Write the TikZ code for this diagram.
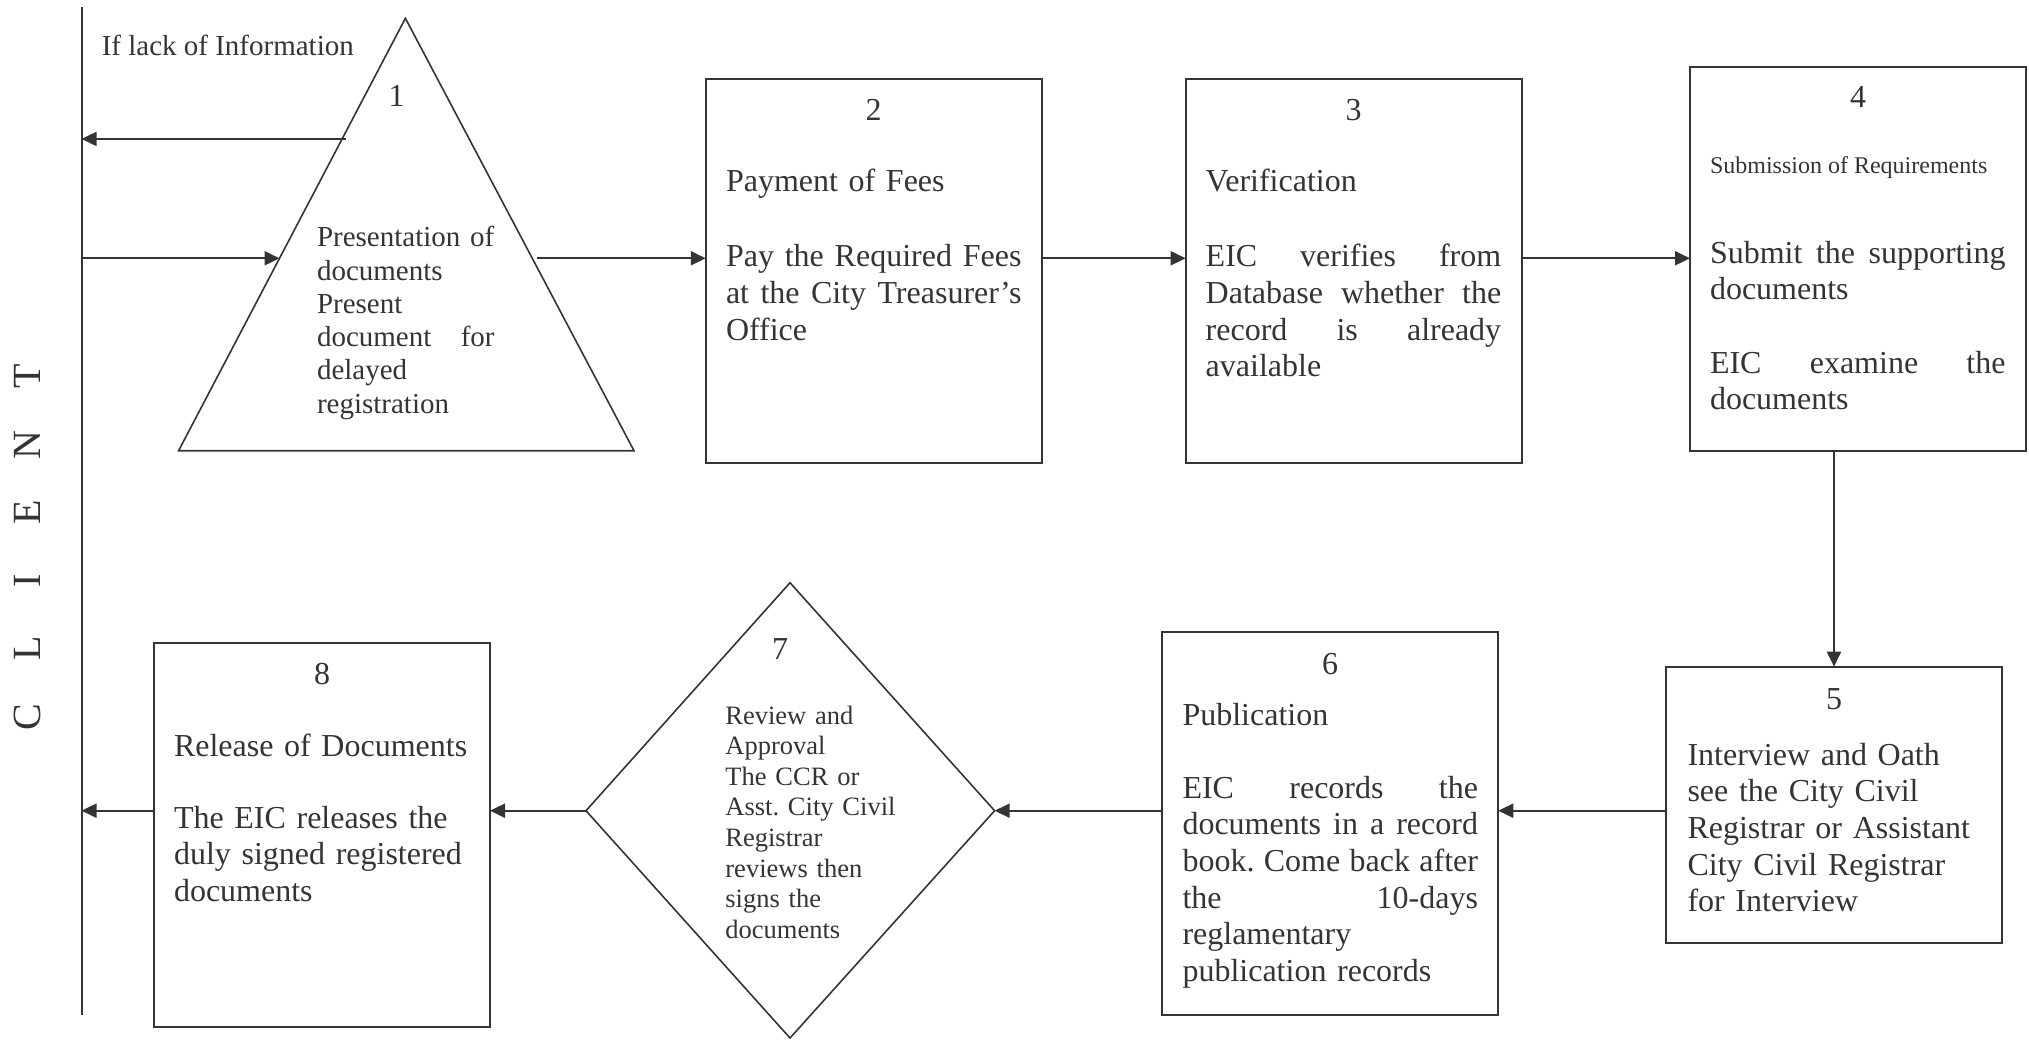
\documentclass[tikz,border=0pt]{standalone}
\usepackage{fontspec}
\setmainfont{Liberation Serif}
\usetikzlibrary{arrows.meta,calc}
\definecolor{ink}{RGB}{52,52,56}
% justified line: words separated by \hfill inside a box of given width
\newcommand{\jl}[2][147.75pt]{\leavevmode\hbox to #1{#2}}
\frenchspacing
\begin{document}
\begin{tikzpicture}[x=0.5pt,y=-0.5pt,
  box/.style={draw=ink, line width=1pt, minimum width=168pt, inner sep=0pt, outer sep=0pt},
  shp/.style={draw=ink, line width=0.8pt, line join=miter},
  arr/.style={draw=ink, line width=1pt, -{Triangle[length=7.5pt,width=7pt]}},
  txt/.style={inner sep=0pt, outer sep=0pt, text=ink, anchor=base west, align=left},
  body/.style={txt, font=\fontsize{16}{18.35}\selectfont, text width=147.75pt},
  small/.style={txt, font=\fontsize{14.5}{16.65}\selectfont},
  num/.style={inner sep=0pt, outer sep=0pt, text=ink, anchor=base, font=\fontsize{16}{18.35}\selectfont},
]
\useasboundingbox (0,0) rectangle (2029,1039);

% client line
\coordinate (ctop) at (81.5,7.3);
\coordinate (cbot) at (81.5,1015);
\draw[ink, line width=1pt] (ctop) -- (cbot);
\node[rotate=90, text=ink, inner sep=0pt, font=\fontsize{20}{24}\selectfont] (client) at (27,546.7)
  {\makebox[34pt]{C}\makebox[34pt]{L}\makebox[34pt]{I}\makebox[34pt]{E}\makebox[34pt]{N}\makebox[34pt]{T}};

% step 1 : triangle
\coordinate (A) at (405.4,18.3);
\coordinate (BL) at (178.6,450.7);
\coordinate (BR) at (634,450.7);
\draw[shp] (A) -- (BR) -- (BL) -- cycle;
\coordinate (t1in) at ($(A)!0.555!(BL)$);
\coordinate (t1out) at ($(A)!0.555!(BR)+(5,0)$);
\coordinate (t1back) at ($(A)!0.279!(BL)+(4,0)$);
\node[small] (lack) at (101.8,55) {If lack of Information};
\node[num] (n1) at (396.5,106.7) {1};
\node[small, text width=88.8pt] (t1) at (317,246.7)
  {Presentation of\\ documents\\ Present\\ \jl[88.8pt]{document\hfill for}\\ delayed\\ registration};

% boxes
\node[box, minimum height=191.85pt] (b2) at (873.75,271.15) {};
\node[box, minimum height=191.85pt] (b3) at (1353.7,271.15) {};
\node[box, minimum height=191.85pt] (b4) at (1858,259.15) {};
\node[box, minimum height=138.15pt] (b5) at (1834,804.85) {};
\node[box, minimum height=191.5pt] (b6) at (1330.25,823) {};
\node[box, minimum height=192pt] (b8) at (322,834.5) {};

% step 7 : diamond
\coordinate (d7t) at (790,582.7);
\coordinate (d7r) at (994.6,810.7);
\coordinate (d7b) at (790,1038);
\coordinate (d7l) at (586,810.7);
\draw[shp] (d7t) -- (d7r) -- (d7b) -- (d7l) -- cycle;

% box 2
\node[num] (n2) at (873.5,120) {2};
\node[body] (h2) at (726,191.7) {Payment of Fees};
\node[body] (t2) at (726,266.7) {\jl{Pay\hfill the\hfill Required\hfill Fees}\\ \jl{at\hfill the\hfill City\hfill Treasurer's}\\ Office};

% box 3
\node[num] (n3) at (1353.7,120) {3};
\node[body] (h3) at (1205.7,191.7) {Verification};
\node[body] (t3) at (1205.7,266.7) {\jl{EIC\hfill verifies\hfill from}\\ \jl{Database\hfill whether\hfill the}\\ \jl{record\hfill is\hfill already}\\ available};

% box 4
\node[num] (n4) at (1858,107.5) {4};
\node[txt, font=\fontsize{12}{14}\selectfont] (h4) at (1710,173) {Submission of Requirements};
\node[body] (t4a) at (1710,263) {\jl{Submit\hfill the\hfill supporting}\\ documents};
\node[body] (t4b) at (1710,373) {\jl{EIC\hfill examine\hfill the}\\ documents};

% box 5
\node[num] (n5) at (1834,709) {5};
\node[body] (t5) at (1687.5,765) {Interview and Oath\\ see the City Civil\\ Registrar or Assistant\\ City Civil Registrar\\ for Interview};

% box 6
\node[num] (n6) at (1330,674) {6};
\node[body] (h6) at (1182.5,725) {Publication};
\node[body] (t6) at (1182.5,798) {\jl{EIC\hfill records\hfill the}\\ \jl{documents\hfill in\hfill a\hfill record}\\ \jl{book.\hfill Come\hfill back\hfill after}\\ \jl{the\hfill 10-days}\\ reglamentary\\ publication records};

% diamond 7
\node[num] (n7) at (780,659) {7};
\node[txt, font=\fontsize{13.25}{15.3}\selectfont, text width=110pt] (t7) at (725.4,724)
  {Review and\\ Approval\\ The CCR or\\ Asst. City Civil\\ Registrar\\ reviews then\\ signs the\\ documents};

% box 8
\node[num] (n8) at (322,684) {8};
\node[body] (h8) at (174,756.7) {Release of Documents};
\node[body] (t8) at (174,828) {The EIC releases the\\ duly signed registered\\ documents};

% connectors
\draw[arr] (t1back) -- (t1back -| ctop);
\draw[arr] (t1in -| ctop) -- (t1in);
\draw[arr] (t1out) -- (t1out -| b2.west);
\draw[arr] (b2.east |- t1out) -- (b3.west |- t1out);
\draw[arr] (b3.east |- t1out) -- (b4.west |- t1out);
\draw[arr] (b5.north |- b4.south) -- (b5.north);
\draw[arr] (b5.west |- d7r) -- (b6.east |- d7r);
\draw[arr] (b6.west |- d7r) -- (d7r);
\draw[arr] (d7l) -- (b8.east |- d7l);
\draw[arr] (b8.west |- d7l) -- (d7l -| ctop);
\end{tikzpicture}
\end{document}
